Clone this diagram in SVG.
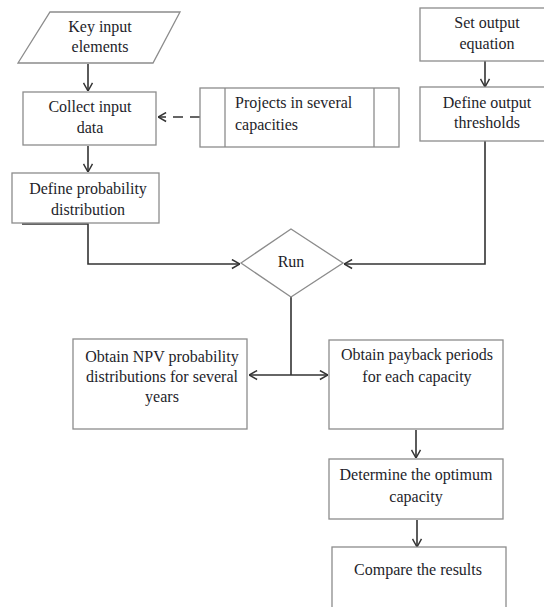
<svg xmlns="http://www.w3.org/2000/svg" width="544" height="607" viewBox="0 0 544 607">
<style>
.box{fill:#fff;stroke:#8c8c8c;stroke-width:1.3}
.t{font-family:'Liberation Serif','DejaVu Serif',serif;font-size:16px;fill:#1e1e2a;text-anchor:middle}
.tl{font-family:'Liberation Serif','DejaVu Serif',serif;font-size:16px;fill:#1e1e2a}
.c{fill:none;stroke:#333;stroke-width:1.6}
</style>
<defs>
<marker id="ah" viewBox="0 0 10 12" refX="10" refY="6" markerWidth="9" markerHeight="11" markerUnits="userSpaceOnUse" orient="auto-start-reverse">
<path d="M1,1 L10,6 L1,11" fill="none" stroke="#333" stroke-width="1.6"/>
</marker>
</defs>
<rect width="544" height="607" fill="#fff"/>
<g id="connectors">
<path class="c" d="M88,64 V91" marker-end="url(#ah)"/>
<path class="c" d="M88,146 V172" marker-end="url(#ah)"/>
<path class="c" d="M200,117 H158" stroke-dasharray="10,7" marker-end="url(#ah)"/>
<path class="c" d="M485,61 V87" marker-end="url(#ah)"/>
<path class="c" d="M22,224 H88 V264 H240" marker-end="url(#ah)"/>
<path class="c" d="M485,141 V264 H344" marker-end="url(#ah)"/>
<path class="c" d="M291,297 V375"/>
<path class="c" d="M249,375 H328" marker-start="url(#ah)" marker-end="url(#ah)"/>
<path class="c" d="M416,430 V458" marker-end="url(#ah)"/>
<path class="c" d="M417,520 V547" marker-end="url(#ah)"/>
</g>
<g id="key-input">
<polygon class="box" points="50,12 180,12 153,63 18,63"/>
<text class="t" x="100" y="32" font-family="Liberation Serif">Key input</text>
<text class="t" x="100" y="52">elements</text>
</g>
<g id="collect-input">
<rect class="box" x="23" y="92" width="133" height="53"/>
<text class="t" x="90" y="112">Collect input</text>
<text class="t" x="90" y="133">data</text>
</g>
<g id="define-probability">
<rect class="box" x="12" y="173" width="147" height="50"/>
<text class="t" x="88" y="194">Define probability</text>
<text class="t" x="88" y="215">distribution</text>
</g>
<g id="projects">
<rect class="box" x="200" y="88" width="199" height="59"/>
<line class="box" x1="225" y1="88" x2="225" y2="147"/>
<line class="box" x1="374" y1="88" x2="374" y2="147"/>
<text class="tl" x="235" y="108">Projects in several</text>
<text class="tl" x="235" y="130">capacities</text>
</g>
<g id="set-output">
<rect class="box" x="420" y="8" width="130" height="53"/>
<text class="t" x="487" y="28">Set output</text>
<text class="t" x="487" y="49">equation</text>
</g>
<g id="define-thresholds">
<rect class="box" x="420" y="87" width="130" height="54"/>
<text class="t" x="487" y="108">Define output</text>
<text class="t" x="487" y="128">thresholds</text>
</g>
<g id="run">
<polygon class="box" points="241,263 291,229 343,263 291,297"/>
<text class="t" x="291" y="267">Run</text>
</g>
<g id="npv">
<rect class="box" x="73" y="339" width="174" height="90"/>
<text class="t" x="162" y="362">Obtain NPV probability</text>
<text class="t" x="162" y="382">distributions for several</text>
<text class="t" x="162" y="402">years</text>
</g>
<g id="payback">
<rect class="box" x="329" y="340" width="174" height="89"/>
<text class="t" x="417" y="360">Obtain payback periods</text>
<text class="t" x="417" y="382">for each capacity</text>
</g>
<g id="optimum">
<rect class="box" x="329" y="459" width="174" height="60"/>
<text class="t" x="416" y="480">Determine the optimum</text>
<text class="t" x="416" y="502">capacity</text>
</g>
<g id="compare">
<rect class="box" x="332" y="547" width="174" height="75"/>
<text class="t" x="418" y="575">Compare the results</text>
</g>
</svg>
